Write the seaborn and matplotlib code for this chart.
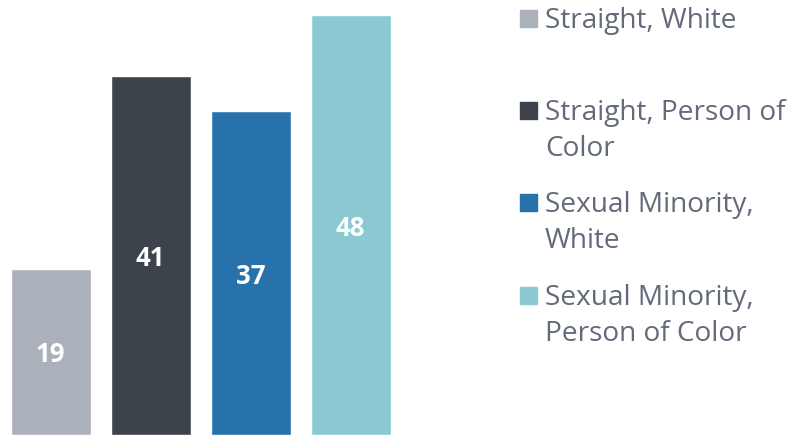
import matplotlib
matplotlib.use("Agg")
import matplotlib.pyplot as plt
import seaborn as sns
import pandas as pd

categories = ["Straight, White", "Straight, Person of Color",
              "Sexual Minority, White", "Sexual Minority, Person of Color"]
legend_labels = ["Straight, White", "Straight, Person of\nColor",
                 "Sexual Minority,\nWhite", "Sexual Minority,\nPerson of Color"]
values = [19, 41, 37, 48]
colors = ["#abb1bb", "#3c434b", "#2872ab", "#8bcad3"]

sns.set_theme(style="white")
plt.rcParams['font.family'] = ['Open Sans', 'DejaVu Sans']

df = pd.DataFrame({"cat": categories, "val": values})

fig = plt.figure(figsize=(7.92, 4.36), dpi=100)
ax = fig.add_axes([0, 1 / 436, 400 / 792, 435 / 436])
sns.barplot(data=df, x="cat", y="val", hue="cat", palette=colors,
            width=0.8, legend=False, ax=ax, saturation=1)
ax.set_xlim(-0.505, 3.495)
ax.set_ylim(0, 435 / 8.75)
ax.axis("off")

for i, v in enumerate(values):
    ax.text(i, v / 2, str(v), ha="center", va="center_baseline", color="white",
            fontsize=18.5, fontweight="bold")

# legend
text_color = "#636a7a"
slot_tops = [18, 110, 202, 295]
for lab, col, y in zip(legend_labels, colors, slot_tops):
    fig.patches.append(plt.Rectangle((520 / 792, 1 - (y + 9) / 436), 17 / 792, 17 / 436,
                                     transform=fig.transFigure, color=col, figure=fig))
    fig.text(545 / 792, 1 - (y - 11) / 436, lab, ha="left", va="top", color=text_color,
             fontsize=20.2, linespacing=1.37)

fig.savefig("out.png", dpi=100)
